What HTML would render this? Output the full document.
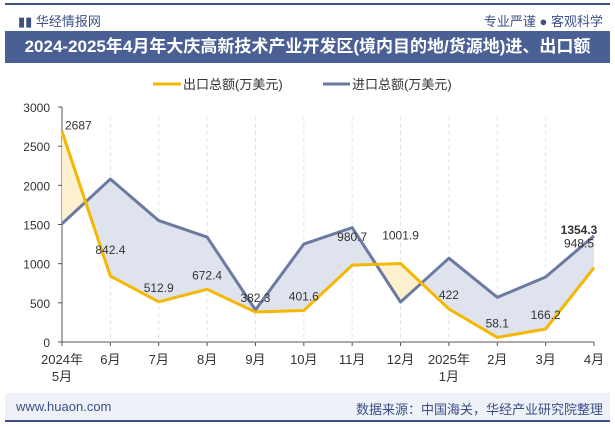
<!DOCTYPE html>
<html><head><meta charset="utf-8"><style>
body{margin:0;width:615px;height:427px;background:#fff;font-family:"Liberation Sans","Noto Sans CJK SC",sans-serif;overflow:hidden;position:relative}
.abs{position:absolute}
</style></head><body>
<div class="abs" style="left:5px;top:3px;width:605px;height:2px;background:#3c4f86"></div>
<div class="abs" style="left:18px;top:11px;font-size:13px;color:#3c4f86">▮▮ 华经情报网</div>
<div class="abs" style="right:12px;top:11px;font-size:13px;color:#3c4f86">专业严谨 ● 客观科学</div>
<div class="abs" style="left:5px;top:31px;width:605px;height:32px;background:#4a5f94;color:#fff;font-weight:bold;font-size:17px;line-height:32px;text-align:center">2024-2025年4月年大庆高新技术产业开发区(境内目的地/货源地)进、出口额</div>
<svg class="abs" style="left:0;top:0" width="615" height="427" id="chart"></svg>
<div class="abs" style="left:5px;top:393px;width:605px;height:27px;background:#eef1f8"></div>
<div class="abs" style="left:16px;top:399px;font-size:13px;color:#3c4f86">www.huaon.com</div>
<div class="abs" style="right:12px;top:399px;font-size:13px;color:#3c4f86">数据来源：中国海关，华经产业研究院整理</div>
<div class="abs" style="left:5px;top:420px;width:605px;height:2px;background:#3c4f86"></div>
<script>
const categories=["2024年\n5月","6月","7月","8月","9月","10月","11月","12月","2025年\n1月","2月","3月","4月"];
const exportVals=[2687,842.4,512.9,672.4,382.3,401.6,980.7,1001.9,422,58.1,166.2,948.5];
const importVals=[1510,2080,1550,1340,410,1250,1460,510,1070,570,830,1354.3];
const yTicks=[0,500,1000,1500,2000,2500,3000];
const NS="http://www.w3.org/2000/svg";
const svg=document.getElementById('chart');
const x0=62,x1=594,yb=342,yt=107,ymax=3000;
const X=i=>x0+i*(x1-x0)/(categories.length-1);
const Y=v=>yb-v/ymax*(yb-yt);
function mk(t,a,p){const e=document.createElementNS(NS,t);for(const k in a)e.setAttribute(k,a[k]);(p||svg).appendChild(e);return e;}
let l1=mk('line',{x1:153,y1:84,x2:181,y2:84,stroke:'#f5b800','stroke-width':3});

let t1=mk('text',{x:183,y:89,'font-size':13,fill:'#333'});t1.textContent='出口总额(万美元)';

let l2=mk('line',{x1:323,y1:84,x2:350,y2:84,stroke:'#6b7aa0','stroke-width':3});

let t2=mk('text',{x:352,y:89,'font-size':13,fill:'#333'});t2.textContent='进口总额(万美元)';

let ax=mk('line',{x1:x0,y1:yb,x2:x1,y2:yb,stroke:'#555'});
let ay=mk('line',{x1:x0,y1:yt,x2:x0,y2:yb,stroke:'#555'});
yTicks.forEach(v=>{
 let t=mk('text',{x:50,y:Y(v)+5,'font-size':12,fill:'#333','text-anchor':'end'});t.textContent=v;
 
 mk('line',{x1:x0-4,y1:Y(v),x2:x0,y2:Y(v),stroke:'#555'});
});
categories.forEach((c,i)=>{
 mk('line',{x1:X(i),y1:yb,x2:X(i),y2:yb+4,stroke:'#555'});
 if(i>0&&i<categories.length-1)mk('line',{x1:X(i),y1:yt+10,x2:X(i),y2:yb,stroke:'#e4e4e4','stroke-dasharray':'4,3'});
 c.split('\n').forEach((s,j)=>{let t=mk('text',{x:X(i),y:yb+22+j*17,'font-size':13,fill:'#333','text-anchor':'middle'});t.textContent=s;
 });
});
const ep=exportVals.map((v,i)=>X(i)+','+Y(v)).join(' ');
const ip=importVals.map((v,i)=>X(i)+','+Y(v)).join(' ');
const defs=mk('defs',{});
const c1=mk('clipPath',{id:'aboveE'},defs);mk('polygon',{points:ep+` ${x1},0 ${x0},0`},c1);
const c2=mk('clipPath',{id:'aboveI'},defs);mk('polygon',{points:ip+` ${x1},0 ${x0},0`},c2);
let f1=mk('polygon',{points:ip+` ${x1},${yb} ${x0},${yb}`,fill:'#dfe3ee','clip-path':'url(#aboveE)'});

let f2=mk('polygon',{points:ep+` ${x1},${yb} ${x0},${yb}`,fill:'#fdf0cf','clip-path':'url(#aboveI)'});

let pi=mk('polyline',{points:ip,fill:'none',stroke:'#6b7aa0','stroke-width':3,'stroke-linejoin':'round'});

let pe=mk('polyline',{points:ep,fill:'none',stroke:'#f5b800','stroke-width':3,'stroke-linejoin':'round'});

exportVals.forEach((v,i)=>{
 let dy=-10,xx=X(i),anchor='middle';
 if(i==0){xx=X(i)+3;anchor='start';dy=-2;}
 if(i==1)dy=-22;
 if(i==6||i==7)dy=-24;
 if(i==11){xx=X(i)-15;dy=-20;}
 let t=mk('text',{x:xx,y:Y(v)+dy,'font-size':12,fill:'#333','text-anchor':anchor});t.textContent=v;
 
});
let li=mk('text',{x:X(11)-15,y:Y(importVals[11])-2,'font-size':12,'font-weight':'bold',fill:'#333','text-anchor':'middle'});li.textContent=importVals[11];

</script>
</body></html>
